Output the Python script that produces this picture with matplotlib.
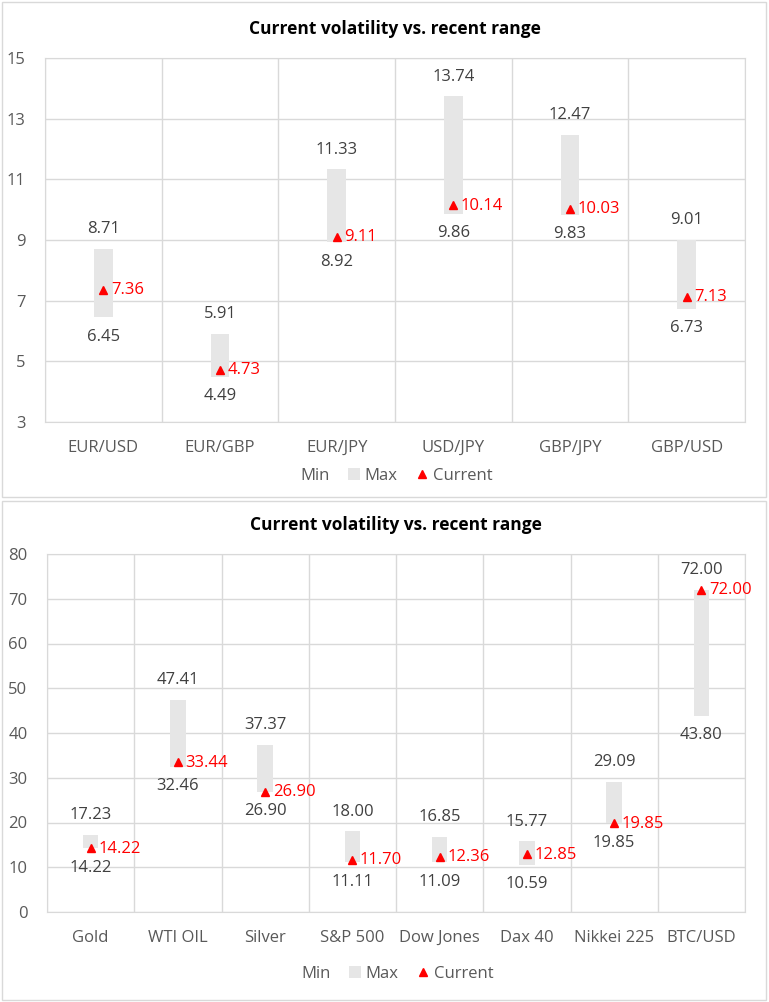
import matplotlib.pyplot as plt
from matplotlib.patches import Patch, Rectangle
from matplotlib.lines import Line2D
import numpy as np

plt.rcParams['font.family'] = ['Open Sans', 'DejaVu Sans']

# FX pairs
fx_cats = ['EUR/USD', 'EUR/GBP', 'EUR/JPY', 'USD/JPY', 'GBP/JPY', 'GBP/USD']
fx_min = [6.45, 4.49, 8.92, 9.86, 9.83, 6.73]
fx_max = [8.71, 5.91, 11.33, 13.74, 12.47, 9.01]
fx_cur = [7.36, 4.73, 9.11, 10.14, 10.03, 7.13]

# other assets
as_cats = ['Gold', 'WTI OIL', 'Silver', 'S&P 500', 'Dow Jones', 'Dax 40', 'Nikkei 225', 'BTC/USD']
as_min = [14.22, 32.46, 26.90, 11.11, 11.09, 10.59, 19.85, 43.80]
as_max = [17.23, 47.41, 37.37, 18.00, 16.85, 15.77, 29.09, 72.00]
as_cur = [14.22, 33.44, 26.90, 11.70, 12.36, 12.85, 19.85, 72.00]

W, H = 769, 1002
grid_c = '#d9d9d9'
bar_c = '#e6e6e6'
txt_c = '#404040'
tick_c = '#595959'
fs = 12

fig = plt.figure(figsize=(W/100, H/100), dpi=100)

def px_axes(l, t, r, b):
    return fig.add_axes([l/W, 1 - b/H, (r - l)/W, (b - t)/H])

def draw_chart(ax, cats, mins, maxs, curs, ylim, ystep, bar_w, leg_px):
    n = len(cats)
    x = np.arange(n)
    ax.bar(x, np.array(maxs) - np.array(mins), bottom=mins, width=bar_w,
           color=bar_c, zorder=2)
    ax.plot(x, curs, linestyle='none', marker='^', color='#ff0000',
            markersize=5.5, zorder=3)
    for i in range(n):
        ax.annotate(f'{maxs[i]:.2f}', (x[i], maxs[i]), xytext=(0, 14),
                    textcoords='offset points', ha='center', va='center',
                    fontsize=fs, color=txt_c)
        ax.annotate(f'{mins[i]:.2f}', (x[i], mins[i]), xytext=(0, -14),
                    textcoords='offset points', ha='center', va='center',
                    fontsize=fs, color=txt_c)
        ax.annotate(f'{curs[i]:.2f}', (x[i], curs[i]), xytext=(5.5, -0.5),
                    textcoords='offset points', ha='left', va='center',
                    fontsize=fs, color='#ff0000')
    ax.set_xlim(-0.5, n - 0.5)
    ax.set_ylim(*ylim)
    ax.set_yticks(np.arange(ylim[0], ylim[1] + 0.01, ystep))
    ax.set_xticks(x)
    ax.set_xticklabels(cats)
    ax.set_xticks(np.arange(-0.5, n), minor=True)
    ax.grid(axis='y', color=grid_c, linewidth=1, zorder=0)
    ax.grid(axis='x', which='minor', color=grid_c, linewidth=1, zorder=0)
    ax.tick_params(axis='both', which='both', length=0, labelsize=fs,
                   labelcolor=tick_c)
    ax.tick_params(axis='x', pad=13)
    ax.tick_params(axis='y', pad=14)
    for s in ax.spines.values():
        s.set_color(grid_c)
    ax.set_title('Current volatility vs. recent range', fontsize=12.5,
                 fontweight='bold', color='black', pad=17)
    handles = [Patch(facecolor='none', edgecolor='none'),
               Patch(facecolor=bar_c, edgecolor='none'),
               Line2D([], [], linestyle='none', marker='^', color='#ff0000',
                      markersize=5.5)]
    h_ax = ax.get_position().height * H
    ax.legend(handles, ['Min', 'Max', 'Current'], ncol=3, frameon=False,
              loc='center', bbox_to_anchor=(0.49, -leg_px / h_ax),
              fontsize=fs, labelcolor=tick_c, handlelength=0.7,
              handletextpad=0.3, columnspacing=1.1)

# chart borders
fig.patches.append(Rectangle((2/W, 1 - 497/H), 764/W, 495/H,
                             transform=fig.transFigure, fill=False,
                             edgecolor=grid_c, linewidth=1))
fig.patches.append(Rectangle((2/W, 1 - 1000/H), 764/W, 499/H,
                             transform=fig.transFigure, fill=False,
                             edgecolor=grid_c, linewidth=1))

ax1 = px_axes(45, 58, 745, 422)
draw_chart(ax1, fx_cats, fx_min, fx_max, fx_cur, (3, 15), 2, 0.16, 54)

ax2 = px_axes(47, 554, 745, 912)
draw_chart(ax2, as_cats, as_min, as_max, as_cur, (0, 80), 10, 0.18, 62)

fig.savefig('out.png', dpi=100)
